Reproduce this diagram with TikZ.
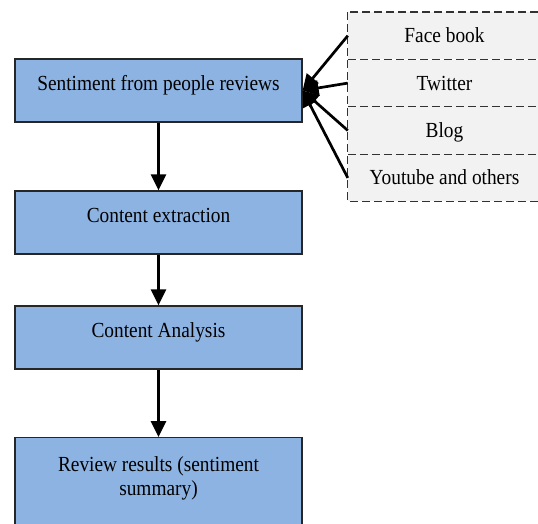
\documentclass[tikz,border=0pt]{standalone}
\usepackage{fontspec}
\setmainfont{Liberation Serif}[FakeStretch=0.9]
\usetikzlibrary{arrows.meta}
\definecolor{boxblue}{RGB}{141,179,226}
\definecolor{rowgray}{RGB}{242,242,242}
\definecolor{dashgray}{RGB}{50,50,50}
\begin{document}
\begin{tikzpicture}[x=1pt,y=-1pt,
  txt/.style={font=\fontsize{21.5}{24}\selectfont},
  mainbox/.style={txt, draw=black!85, line width=1.2pt, fill=boxblue,
    minimum width=287pt, inner sep=0pt, text height=31.5pt, text depth=31.5pt},
  rowbox/.style={txt, fill=rowgray, minimum width=193pt, inner sep=0pt,
    text height=30.5pt, text depth=16.5pt, anchor=north},
  dashline/.style={draw=dashgray, line width=1.2pt, dash pattern=on 8pt off 4pt},
  flow/.style={line width=2.7pt, -{Triangle[width=15pt,length=16pt]}},
]
\useasboundingbox (0,0) rectangle (538,524);
% main flow
\node[mainbox] (b1) at (158.5,90.5) {Sentiment from people reviews};
\node[mainbox] (b2) at (158.5,222.5) {Content extraction};
\node[mainbox] (b3) at (158.5,337.5) {Content Analysis};
\node[mainbox, anchor=north, text height=34pt, text depth=64pt] (b4) at (158.5,437)
  {\begin{tabular}[t]{@{}c@{}}Review results (sentiment\\summary)\end{tabular}};
% sources
\node[rowbox] (r1) at (444.5,12) {Face book};
\node[rowbox] (r2) at (r1.south) {Twitter};
\node[rowbox] (r3) at (r2.south) {Blog};
\node[rowbox] (r4) at (r3.south) {Youtube and others};
\draw[dashline] (r1.north west) rectangle (r4.south east);
\draw[dashline] (r1.south west) -- (r1.south east);
\draw[dashline] (r2.south west) -- (r2.south east);
\draw[dashline] (r3.south west) -- (r3.south east);
% connectors
\draw[flow] (b1.south) -- (b2.north);
\draw[flow] (b2.south) -- (b3.north);
\draw[flow] (b3.south) -- (b4.north);
\draw[flow] (r1.west) -- (b1.east);
\draw[flow] (r2.west) -- (b1.east);
\draw[flow] (r3.west) -- (b1.east);
\draw[flow] (r4.west) -- (b1.east);
\end{tikzpicture}
\end{document}
